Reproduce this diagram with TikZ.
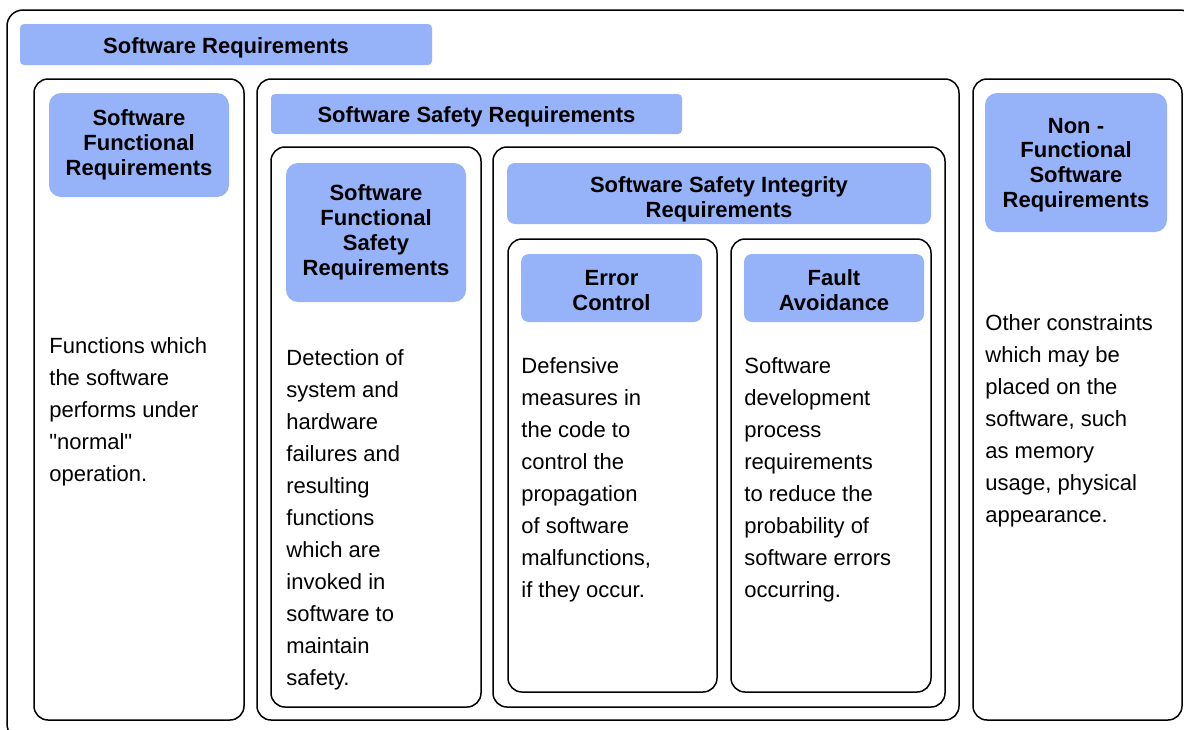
\documentclass[tikz,border=0pt]{standalone}
\usepackage{fontspec}
\setmainfont{Liberation Sans}[Ligatures=TeXOff]
\usepackage{tikz}
\usepackage{xcolor}
\definecolor{headblue}{RGB}{150,178,248}
\tikzset{
  reqframe/.style={draw=black,line width=0.75pt,rounded corners=7pt},
  headbox/.style={fill=headblue,rounded corners=6pt,inner sep=0pt,align=center,
    font=\fontsize{11}{12.4}\selectfont\bfseries},
  headbar/.style={headbox,rounded corners=2pt,text height=8.7pt,text depth=0pt},
  bodytext/.style={anchor=north west,inner sep=0pt,align=left,
    font=\fontsize{11}{16}\selectfont}
}

\begin{document}
\begin{tikzpicture}[x=0.5pt,y=-0.5pt]
        \clip (0,0) rectangle (1184,729);
        \draw[reqframe,rounded corners=8pt] (7,10) rectangle (1196,740);
        \node[headbar,minimum width=206pt,minimum height=20.5pt] (swreq) at (226,44.5) {Software Requirements};

        \draw[reqframe] (34,79) rectangle (244,720);
        \node[headbox,minimum width=90pt,minimum height=52pt] (funchead) at (139,145) {Software\\Functional\\Requirements};
        \node[bodytext] (functext) at (49,330.6) {\strut Functions which\\the software\\performs under\\"normal"\\operation.};

        \draw[reqframe] (257,79) rectangle (959,720);
        \node[headbar,minimum width=205.5pt,minimum height=20pt] (safereq) at (476.5,114) {Software Safety Requirements};

        \draw[reqframe] (271,147) rectangle (481,707);
        \node[headbox,minimum width=90pt,minimum height=69.5pt] (fsafehead) at (376,232.5) {Software\\Functional\\Safety\\Requirements};
        \node[bodytext] (fsafetext) at (286,342.6) {\strut Detection of\\system and\\hardware\\failures and\\resulting\\functions\\which are\\invoked in\\software to\\maintain\\safety.};

        \draw[reqframe] (493,147) rectangle (945,707);
        \node[headbox,rounded corners=4pt,minimum width=212pt,minimum height=30.5pt,text height=23.5pt,text depth=0pt] (integhead) at (719,193.5) {Software Safety Integrity\\Requirements};

        \draw[reqframe] (508,239) rectangle (717,692);
        \node[headbox,rounded corners=4pt,minimum width=90.5pt,minimum height=34pt,text height=22pt,text depth=0pt] (errhead) at (611.5,288) {Error\\Control};
        \node[bodytext] (errtext) at (521,350.6) {\strut Defensive\\measures in\\the code to\\control the\\propagation\\of software\\malfunctions,\\if they occur.};

        \draw[reqframe] (731,239) rectangle (931,692);
        \node[headbox,rounded corners=4pt,minimum width=90pt,minimum height=34pt,text height=22pt,text depth=0pt] (faulthead) at (834,288) {Fault\\Avoidance};
        \node[bodytext] (faulttext) at (744,350.6) {\strut Software\\development\\process\\requirements\\to reduce the\\probability of\\software errors\\occurring.};

        \draw[reqframe] (973,79) rectangle (1182,720);
        \node[headbox,minimum width=91pt,minimum height=69.5pt,text height=45pt,text depth=0pt] (nonfhead) at (1076,162.5) {Non -\\Functional\\Software\\Requirements};
        \node[bodytext] (nonftext) at (985,307.6) {\strut Other constraints\\which may be\\placed on the\\software, such\\as memory\\usage, physical\\appearance.};
\end{tikzpicture}
\end{document}
